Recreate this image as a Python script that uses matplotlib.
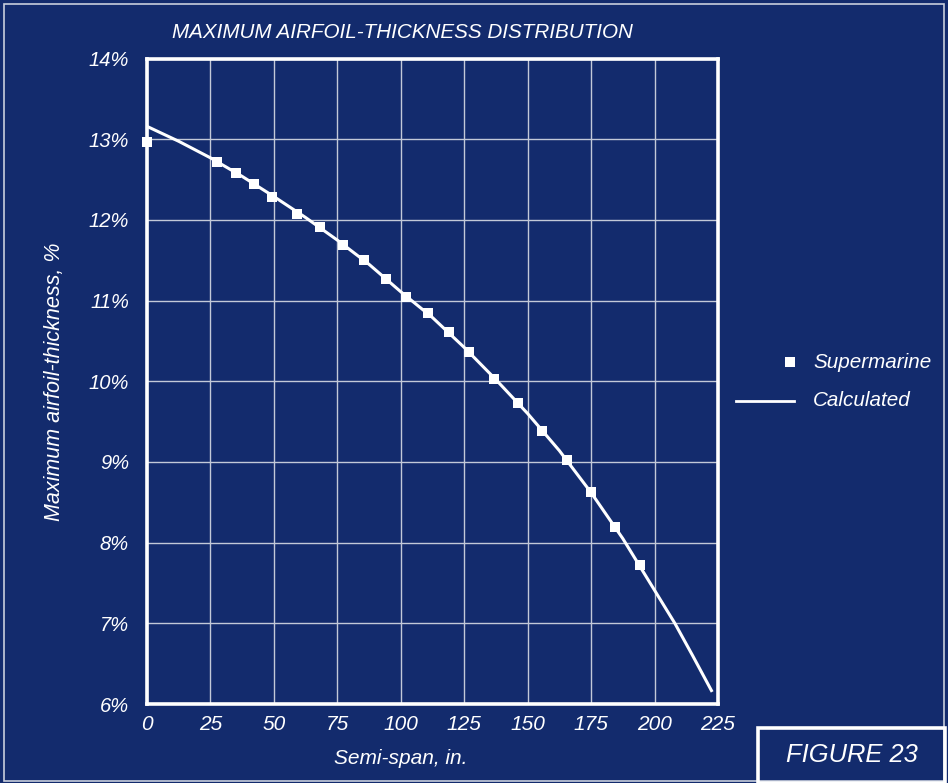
import matplotlib
matplotlib.use("Agg")
import matplotlib.pyplot as plt
from matplotlib.patches import Rectangle
from matplotlib.lines import Line2D

# ---- data ----
supermarine_x = [0, 27.7, 34.9, 42.2, 49.3, 59.2, 68.0, 77.4, 85.4, 94.0, 102.2,
                 110.7, 118.9, 127.0, 136.7, 146.2, 155.8, 165.5, 174.9, 184.5, 194.1]
supermarine_y = [12.97, 12.72, 12.58, 12.44, 12.29, 12.07, 11.91, 11.69, 11.50, 11.27, 11.05,
                 10.85, 10.61, 10.36, 10.03, 9.73, 9.39, 9.03, 8.63, 8.19, 7.72]

calc_x = [0, 12.5, 25, 37.5, 50, 62.5, 75, 87.5, 100, 112.5, 125, 137.5, 150,
          162.5, 175, 187.5, 200, 208, 215, 222.7]
calc_y = [13.16, 12.975, 12.77, 12.54, 12.29, 12.03, 11.75, 11.45, 11.11, 10.79, 10.42,
          10.02, 9.60, 9.14, 8.62, 8.05, 7.41, 7.00, 6.60, 6.15]

x_ticks = [0, 25, 50, 75, 100, 125, 150, 175, 200, 225]
y_ticks = [6, 7, 8, 9, 10, 11, 12, 13, 14]
y_tick_labels = ["6%", "7%", "8%", "9%", "10%", "11%", "12%", "13%", "14%"]

title = "MAXIMUM AIRFOIL-THICKNESS DISTRIBUTION"
xlabel = "Semi-span, in."
ylabel = "Maximum airfoil-thickness, %"
legend_labels = ["Supermarine", "Calculated"]
figure_label = "FIGURE 23"

BG = "#132b6d"
WHITE = "#ffffff"
GRID = "#c3c9d8"
FONT = ["Liberation Sans", "DejaVu Sans"]

fig = plt.figure(figsize=(9.48, 7.83), dpi=100)
fig.patch.set_facecolor(BG)

W, H = 948, 783
ax = fig.add_axes([147 / W, 1 - 704 / H, 571 / W, (704 - 58.6) / H])
ax.set_facecolor(BG)
ax.set_xlim(0, 225)
ax.set_ylim(6, 14)
ax.set_xticks(x_ticks)
ax.set_yticks(y_ticks)
ax.set_xticklabels([str(t) for t in x_ticks], family=FONT, style="italic", fontsize=15, color=WHITE)
ax.set_yticklabels(y_tick_labels, family=FONT, style="italic", fontsize=14.5, color=WHITE)
ax.tick_params(axis="y", length=0, pad=13)
ax.tick_params(axis="x", length=0, pad=8)
ax.grid(True, color=GRID, linewidth=1.0)
ax.set_axisbelow(True)
for s in ax.spines.values():
    s.set_color(WHITE)
    s.set_linewidth(2.6)

ax.plot(calc_x, calc_y, color=WHITE, linewidth=2.2, solid_capstyle="butt", zorder=3, clip_on=False)
ax.plot(supermarine_x, supermarine_y, linestyle="none", marker="s", markersize=6.5,
        color=WHITE, markeredgewidth=0, zorder=4, clip_on=False)

# axis labels placed to match the reference
fig.text(401 / W, 1 - 758 / H, xlabel, family=FONT, style="italic", fontsize=15,
         color=WHITE, ha="center", va="center")
fig.text(55 / W, 1 - 382 / H, ylabel, family=FONT, style="italic", fontsize=15.5,
         color=WHITE, ha="center", va="center", rotation=90)

fig.text(402 / W, 1 - 32 / H, title, family=FONT, style="italic", fontsize=14.9,
         color=WHITE, ha="center", va="center")

# legend (drawn manually in figure coordinates)
fig.add_artist(Line2D([790 / W], [1 - 362 / H], marker="s", markersize=6.5, color=WHITE,
                      markeredgewidth=0, linestyle="none"))
fig.add_artist(Line2D([736 / W, 794 / W], [1 - 401 / H, 1 - 401 / H], color=WHITE, linewidth=2.0))
fig.text(813 / W, 1 - 362 / H, legend_labels[0], family=FONT, style="italic", fontsize=14.9,
         color=WHITE, ha="left", va="center")
fig.text(813 / W, 1 - 401 / H, legend_labels[1], family=FONT, style="italic", fontsize=14.9,
         color=WHITE, ha="left", va="center")

# outer thin border
fig.add_artist(Rectangle((4 / W, 2 / H), (W - 8) / W, (H - 6) / H, transform=fig.transFigure,
                         fill=False, edgecolor="#c8cedc", linewidth=1.2))
# figure label box
fig.add_artist(Rectangle((758 / W, 0 / H), (945 - 758) / W, (783 - 728) / H, transform=fig.transFigure,
                         fill=False, edgecolor=WHITE, linewidth=2.6))
fig.text(852 / W, 1 - 755 / H, figure_label, family=FONT, style="italic", fontsize=18.4,
         color=WHITE, ha="center", va="center")

fig.savefig("out.png", dpi=100, facecolor=BG)
